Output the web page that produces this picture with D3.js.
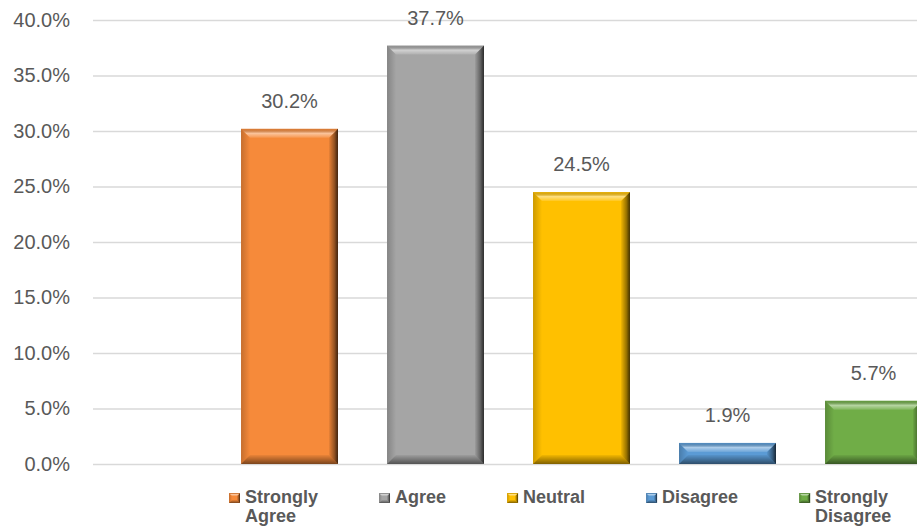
<!DOCTYPE html>
<html>
<head>
<meta charset="utf-8">
<script src="https://cdn.jsdelivr.net/npm/d3@7"></script>
<style>
  html, body { margin: 0; padding: 0; background: #fff; }
  svg { display: block; }
</style>
</head>
<body>
<svg id="chart" width="917" height="529"></svg>
<script>
// Survey response shares
const categories = ["Strongly Agree", "Agree", "Neutral", "Disagree", "Strongly Disagree"];
const legendLines = [["Strongly", "Agree"], ["Agree"], ["Neutral"], ["Disagree"], ["Strongly", "Disagree"]];
const values = [30.2, 37.7, 24.5, 1.9, 5.7];
const colors = ["#F68A3A", "#A5A5A5", "#FFC000", "#5B9BD5", "#70AD47"];
const yTicks = [0, 5, 10, 15, 20, 25, 30, 35, 40];

const W = 917, H = 529;
const svg = d3.select("#chart");
const font = "'Liberation Sans', Arial, sans-serif";
const textColor = "#595959";

const y = d3.scaleLinear().domain([0, 40]).range([464, 20]);
const x = d3.scaleBand()
  .domain(categories)
  .range([216.5, 946.5])
  .paddingInner(0.336)
  .paddingOuter(0.168);

// Gradients for the bevelled bar edges (overlays on the base colour)
const defs = svg.append("defs");
function grad(id, x1, y1, x2, y2, stops) {
  const g = defs.append("linearGradient").attr("id", id)
    .attr("x1", x1).attr("y1", y1).attr("x2", x2).attr("y2", y2);
  stops.forEach(s => g.append("stop").attr("offset", s[0])
    .attr("stop-color", s[1]).attr("stop-opacity", s[2]));
}
grad("bvTop", 0, 0, 0, 1, [[0, "#000", 0.08], [0.5, "#fff", 0.5], [1, "#fff", 0.12]]);
grad("bvLeft", 0, 0, 1, 0, [[0, "#000", 0.2], [1, "#000", 0.0]]);
grad("bvRight", 0, 0, 1, 0, [[0, "#000", 0.05], [0.6, "#000", 0.4], [1, "#000", 0.75]]);
grad("bvBottom", 0, 0, 0, 1, [[0, "#000", 0.05], [1, "#000", 0.5]]);

// Horizontal gridlines
const axisG = svg.append("g")
  .attr("transform", "translate(93,0)")
  .call(d3.axisLeft(y).tickValues(yTicks).tickSize(-(W - 93)).tickPadding(23)
    .tickFormat(d => d3.format(".1f")(d) + "%"));
axisG.select(".domain").remove();
axisG.selectAll(".tick line").attr("stroke", "#d9d9d9").attr("stroke-width", 1.3);
axisG.selectAll(".tick text")
  .attr("fill", textColor)
  .style("font-family", font)
  .style("font-size", "20px");

// Bevelled bar drawn as a base rect plus four edge facets
function bevelBar(g, x0, y0, w, h, color, depth) {
  const x1 = x0 + w, y1 = y0 + h;
  const b = Math.min(depth, h / 2, w / 2);
  g.append("rect").attr("x", x0).attr("y", y0).attr("width", w).attr("height", h).attr("fill", color);
  const poly = (pts, fill) => g.append("polygon")
    .attr("points", pts.map(p => p.join(",")).join(" ")).attr("fill", fill);
  poly([[x0, y0], [x0 + b, y0 + b], [x0 + b, y1 - b], [x0, y1]], "url(#bvLeft)");
  poly([[x1, y0], [x1, y1], [x1 - b, y1 - b], [x1 - b, y0 + b]], "url(#bvRight)");
  poly([[x0, y1], [x1, y1], [x1 - b, y1 - b], [x0 + b, y1 - b]], "url(#bvBottom)");
  poly([[x0, y0], [x1, y0], [x1 - b, y0 + b], [x0 + b, y0 + b]], "url(#bvTop)");
}

const bars = svg.append("g");
categories.forEach((c, i) => {
  const g = bars.append("g");
  bevelBar(g, x(c), y(values[i]), x.bandwidth(), y(0) - y(values[i]), colors[i], 9);
});

// Value labels
svg.append("g").selectAll("text")
  .data(categories)
  .join("text")
  .attr("x", c => x(c) + x.bandwidth() / 2)
  .attr("y", (c, i) => y(values[i]) - 21)
  .attr("text-anchor", "middle")
  .attr("fill", textColor)
  .style("font-family", font)
  .style("font-size", "20px")
  .text((c, i) => d3.format(".1f")(values[i]) + "%");

// Legend, laid out left to right
const legend = svg.append("g");
let lx = 229;
categories.forEach((c, i) => {
  const item = legend.append("g");
  bevelBar(item, lx, 493, 11, 10, colors[i], 3);
  const t = item.append("text")
    .attr("fill", textColor)
    .style("font-family", font)
    .style("font-size", "18px")
    .style("font-weight", "bold");
  legendLines[i].forEach((line, k) => {
    t.append("tspan").attr("x", lx + 16).attr("y", 503 + k * 19).text(line);
  });
  const w = d3.max(t.selectAll("tspan").nodes(), n => n.getComputedTextLength());
  lx = lx + 16 + w + 61;
});
</script>
</body>
</html>
